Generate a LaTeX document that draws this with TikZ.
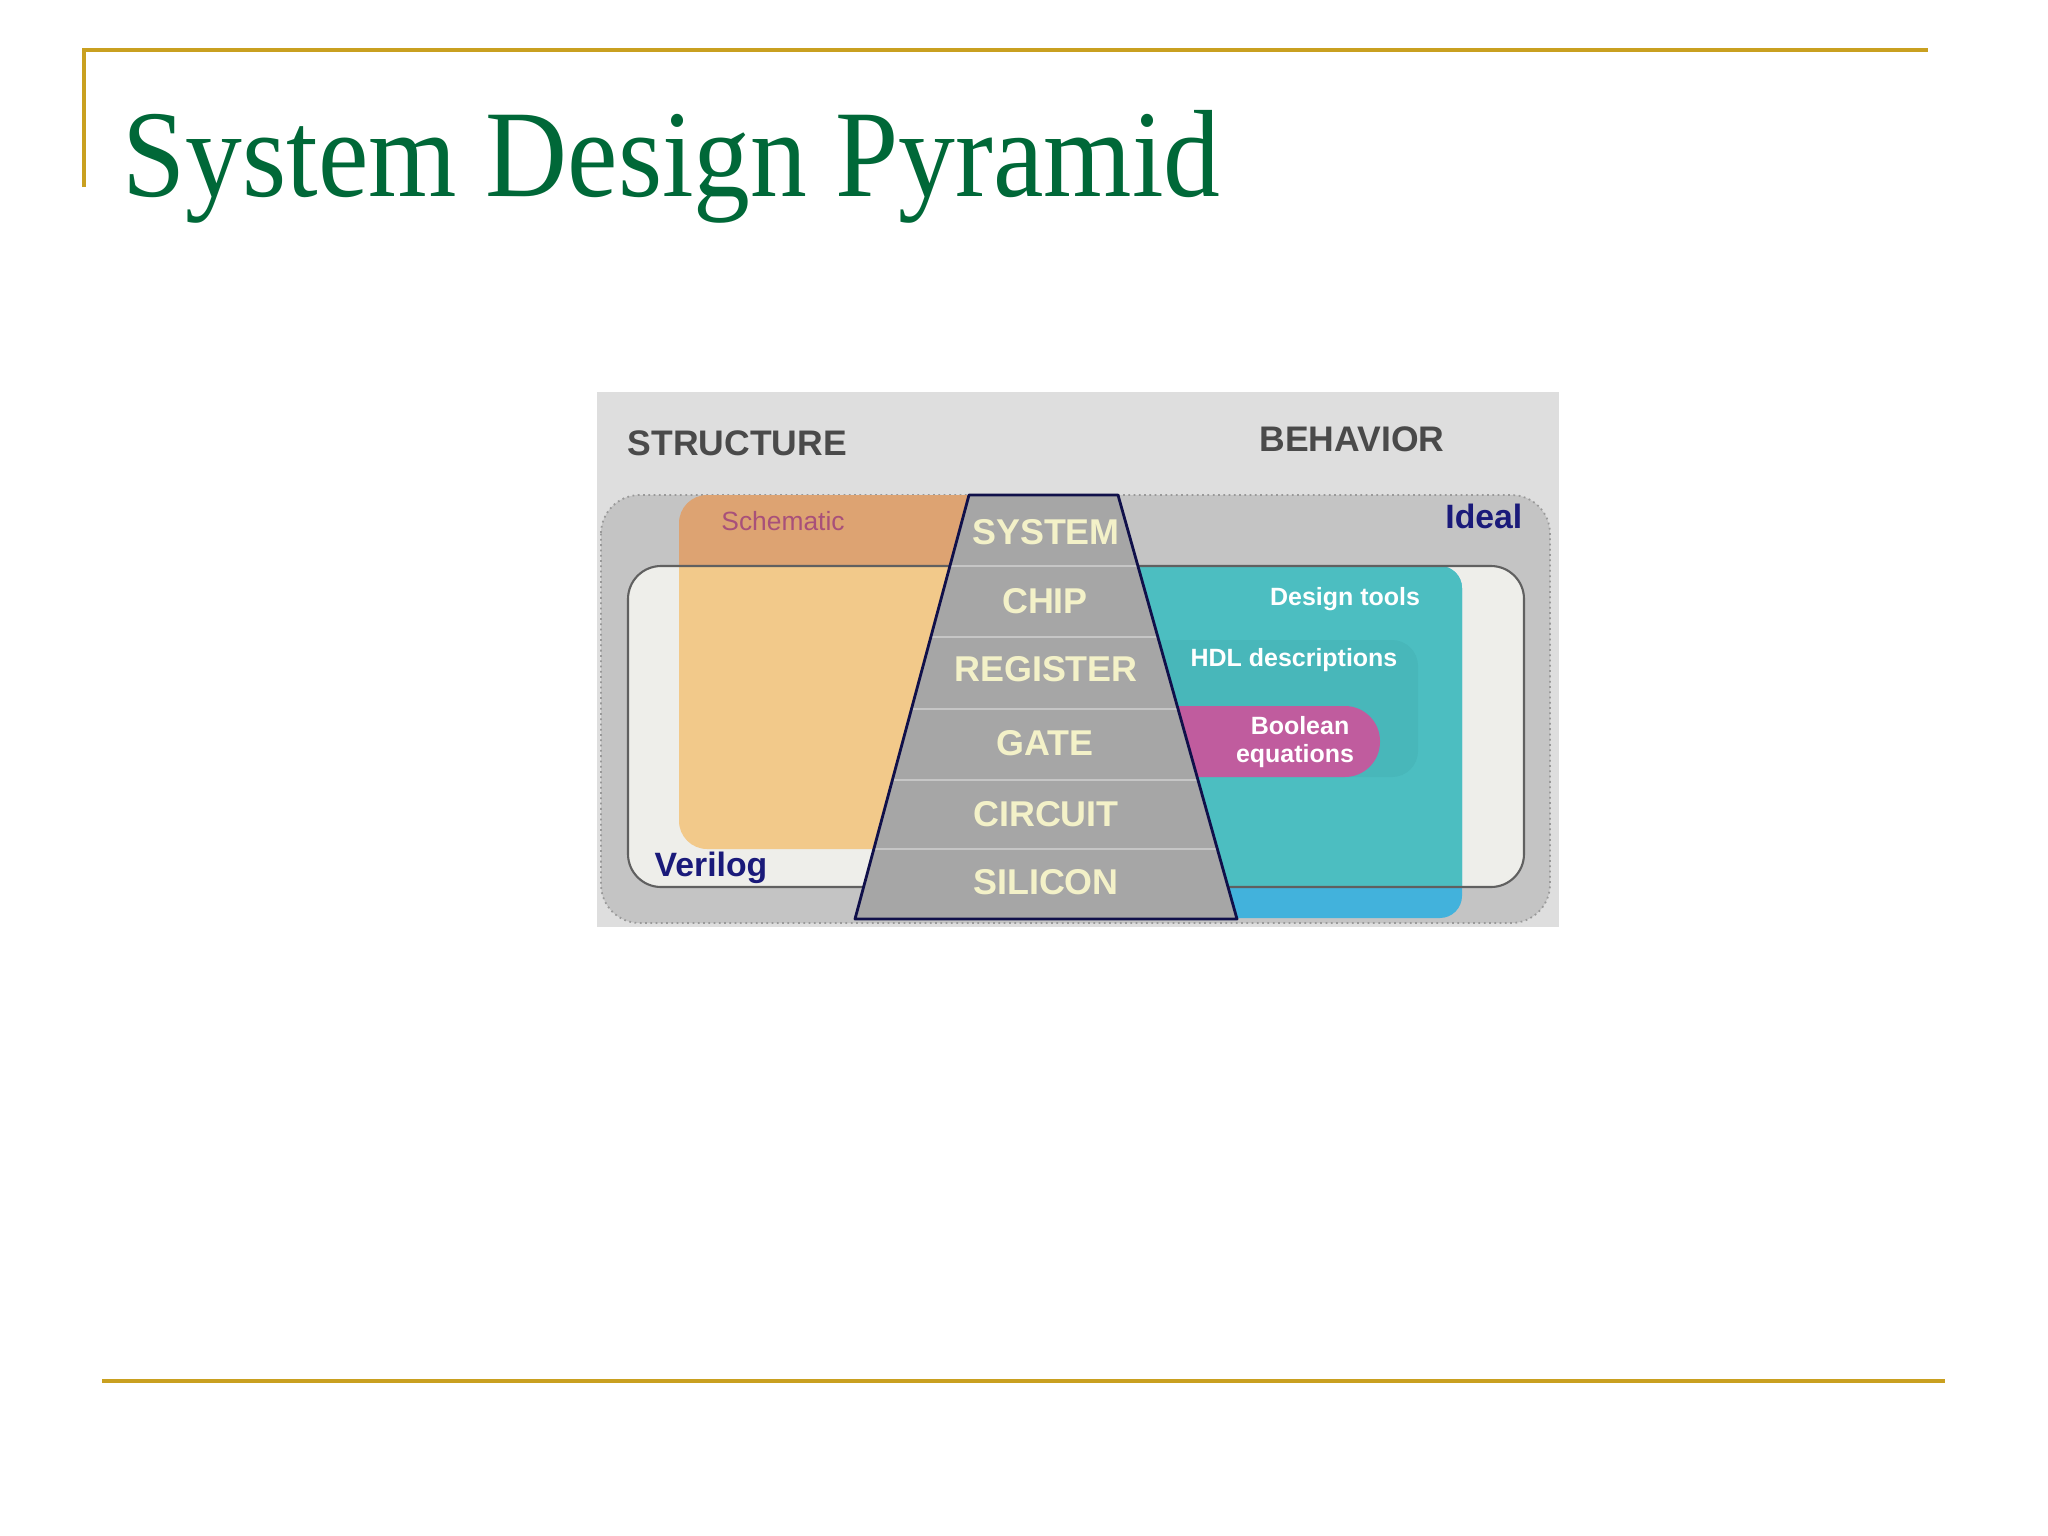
\documentclass[tikz,border=0pt]{standalone}
\usepackage{fontspec}
\setmainfont{Liberation Serif}
\setsansfont{Liberation Sans}
\usetikzlibrary{calc}
\definecolor{gold}{HTML}{C9A020}
\definecolor{titlegreen}{HTML}{006838}
\definecolor{bggray}{HTML}{DEDEDE}
\definecolor{idealgray}{HTML}{C4C4C4}
\definecolor{innerwhite}{HTML}{EEEEEA}
\definecolor{orangetop}{HTML}{DDA372}
\definecolor{orangein}{HTML}{F2C98A}
\definecolor{tealin}{HTML}{4CBEC1}
\definecolor{tealhdl}{HTML}{48B7BA}
\definecolor{tealout}{HTML}{42B2DC}
\definecolor{boolpink}{HTML}{C05C9E}
\definecolor{pyrgray}{HTML}{A6A6A6}
\definecolor{pyrline}{HTML}{10104A}
\definecolor{pyrtext}{HTML}{F3F1C8}
\definecolor{navy}{HTML}{1A1A7A}
\definecolor{headgray}{HTML}{4A4A4A}
\definecolor{schem}{HTML}{A8507A}
\tikzset{
  goldline/.style={draw=gold, line width=1.4pt},
  levellabel/.style={font=\sffamily\bfseries\fontsize{10.2}{12}\selectfont, text=pyrtext, inner sep=0pt, anchor=center},
  headlabel/.style={font=\sffamily\bfseries\fontsize{10.1}{12}\selectfont, text=headgray, inner sep=0pt, anchor=center},
  navylabel/.style={font=\sffamily\bfseries\fontsize{9.6}{12}\selectfont, text=navy, inner sep=0pt, anchor=base},
  smallwhite/.style={font=\sffamily\bfseries\fontsize{7.1}{9}\selectfont, text=white, inner sep=0pt, anchor=base},
}
\begin{document}
\begin{tikzpicture}[x=0.01cm, y=-0.01cm]
\useasboundingbox (0,0) rectangle (2048,1536);
\fill[white] (0,0) rectangle (2048,1536);

% slide frame
\coordinate (tl) at (84,50);
\coordinate (tr) at (1928,50);
\coordinate (vl) at (84,187);
\coordinate (bl) at (102,1381);
\coordinate (br) at (1945,1381);
\draw[goldline] (vl) -- (tl) -- (tr);
\draw[goldline] (bl) -- (br);

\node[anchor=base west, inner sep=0pt, text=titlegreen,
      font=\fontsize{35.3}{40}\selectfont] (title) at (122,196)
      {\scalebox{0.915}[1]{System Design Pyramid}};

% diagram background
\fill[bggray] (597,392) rectangle (1559,927);

% Ideal region
\path[fill=idealgray, draw=gray!80, densely dotted, line width=0.5pt, rounded corners=11pt]
  (601,495) rectangle (1550,923);

% Schematic region
\fill[orangetop, rounded corners=8pt] (679,495) rectangle (1110,849);
\begin{scope}
  \clip[rounded corners=9.4pt] (628,566) rectangle (1524,887);
  \fill[innerwhite] (628,566) rectangle (1524,887);
  \fill[orangein, rounded corners=8pt] (679,495) rectangle (1110,849);
\end{scope}

% Behavior (teal) region
\fill[tealout, rounded corners=6.3pt] (1100,566) rectangle (1462,918);
\begin{scope}
  \clip[rounded corners=9.4pt] (628,566) rectangle (1524,887);
  \fill[tealin, rounded corners=6.3pt] (1100,566) rectangle (1462,918);
\end{scope}
\fill[tealhdl, rounded corners=7.4pt] (1120,640) rectangle (1418,777);
\fill[boolpink, rounded corners=10pt] (1120,706) rectangle (1380,777);

% inner (Verilog) border
\draw[draw=gray!75!black, line width=0.6pt, rounded corners=9.4pt] (628,566) rectangle (1524,887);

% pyramid
\coordinate (pA) at (969,495);
\coordinate (pB) at (1118,495);
\coordinate (pC) at (1237,919);
\coordinate (pD) at (855,919);
\fill[pyrgray] (pA) -- (pB) -- (pC) -- (pD) -- cycle;
\begin{scope}
  \clip (pA) -- (pB) -- (pC) -- (pD) -- cycle;
  \foreach \yy in {566,637,709,780,849}
    \draw[draw=gray!45, line width=0.7pt] (800,\yy) -- (1300,\yy);
\end{scope}
\draw[draw=pyrline, line width=0.8pt, line join=round] (pA) -- (pB) -- (pC) -- (pD) -- cycle;

\node[levellabel] (system) at (1046,532) {SYSTEM};
\node[levellabel] (chip) at (1045,601) {CHIP};
\node[levellabel] (register) at (1046,669) {REGISTER};
\node[levellabel] (gate) at (1045,743) {GATE};
\node[levellabel] (circuit) at (1046,814) {CIRCUIT};
\node[levellabel] (silicon) at (1046,882) {SILICON};

% headings
\node[headlabel, anchor=west] (structure) at (627,443) {STRUCTURE};
\node[headlabel] (behavior) at (1352,439) {BEHAVIOR};

\node[navylabel, anchor=base east] (ideal) at (1523,528) {Ideal};
\node[navylabel, anchor=base west] (verilog) at (654,876) {Verilog};

\node[font=\sffamily\fontsize{7.5}{9}\selectfont, text=schem, inner sep=0pt, anchor=base] (schematic) at (783,530) {Schematic};
\node[smallwhite] (design) at (1345,605) {Design tools};
\node[smallwhite] (hdl) at (1294,666) {HDL descriptions};
\node[smallwhite] (boolean) at (1300,734) {Boolean};
\node[smallwhite] (equations) at (1295,762) {equations};
\end{tikzpicture}
\end{document}
